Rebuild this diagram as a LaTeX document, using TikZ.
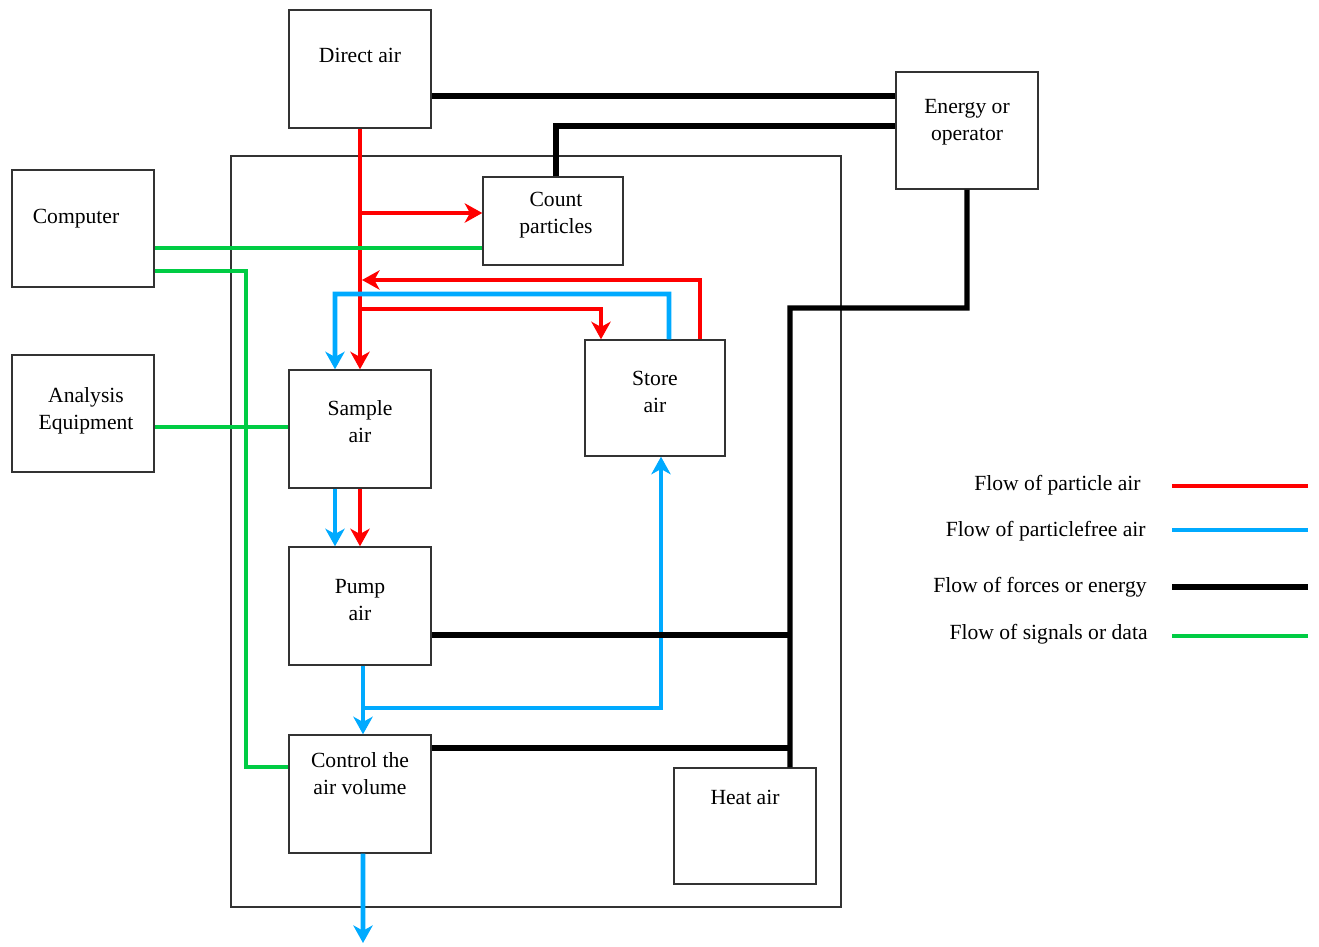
\documentclass[tikz,border=0pt]{standalone}
\usepackage{fontspec}
\setmainfont{Liberation Serif}
\usetikzlibrary{arrows.meta}

\definecolor{partred}{RGB}{255,0,0}
\definecolor{freeblue}{RGB}{0,170,255}
\definecolor{siggreen}{RGB}{0,204,68}

\tikzset{
  box/.style={draw=black!80, line width=0.8pt, minimum width=2.84cm, minimum height=2.36cm, inner sep=0pt},
  txt/.style={anchor=north, align=center, inner sep=0pt, font=\fontsize{12.3}{15}\selectfont},
  tip/.style={-{Stealth[length=10pt,width=11pt,inset=3pt]}},
  pflow/.style={draw=partred, line width=2.8pt},
  fflow/.style={draw=freeblue, line width=2.8pt},
  eflow/.style={draw=black, line width=2.9pt},
  sflow/.style={draw=siggreen, line width=2.8pt}
}

\begin{document}
\begin{tikzpicture}[x=0.2mm, y=-0.2mm]
  \useasboundingbox (0,0) rectangle (1319,946);

  % system border
  \draw[black!80, line width=0.6pt] (231,156) rectangle (841,907);

  % blocks
  \node[box, label={[txt, yshift=-0.78cm]north:Direct air}] (direct) at (360,69) {};
  \node[box, minimum height=2.34cm, label={[txt, yshift=-0.56cm]north:Energy or\\operator}] (energy) at (967,130.5) {};
  \node[box, minimum width=2.8cm, minimum height=1.76cm, label={[txt, xshift=0.06cm, yshift=-0.32cm]north:Count\\particles}] (count) at (553,221) {};
  \node[box, minimum height=2.34cm, label={[txt, xshift=-0.14cm, yshift=-0.8cm]north:Computer}] (computer) at (83,228.5) {};
  \node[box, minimum height=2.34cm, label={[txt, xshift=0.06cm, yshift=-0.66cm]north:Analysis\\Equipment}] (analysis) at (83,413.5) {};
  \node[box, label={[txt, yshift=-0.62cm]north:Sample\\air}] (sample) at (360,429) {};
  \node[box, minimum width=2.8cm, minimum height=2.32cm, label={[txt, yshift=-0.64cm]north:Store\\air}] (store) at (655,398) {};
  \node[box, label={[txt, yshift=-0.66cm]north:Pump\\air}] (pump) at (360,606) {};
  \node[box, label={[txt, yshift=-0.36cm]north:Control the\\air volume}] (control) at (360,794) {};
  \node[box, minimum height=2.32cm, label={[txt, yshift=-0.46cm]north:Heat air}] (heat) at (745,826) {};

  % junctions
  \coordinate (r1) at (360,213);
  \coordinate (r2) at (362,280);
  \coordinate (b1) at (335,294);
  \coordinate (r3) at (360,309);
  \coordinate (e1) at (790,308);
  \coordinate (g1) at (246,767);
  \coordinate (b2) at (363,708);
  \coordinate (out) at (363,943);

  % particle air
  \draw[pflow, tip] (direct.south) -- (sample.north);
  \draw[pflow, tip] (r1) -- (r1 -| count.west);
  \draw[pflow, tip] ([xshift=0.9cm]store.north) |- (r2);
  \draw[pflow, tip] (r3) -| ([xshift=-1.08cm]store.north);
  \draw[pflow, tip] (sample.south) -- (pump.north);

  % particlefree air
  \draw[fflow, tip] ([xshift=0.28cm]store.north) |- (b1) -- ([xshift=-0.5cm]sample.north);
  \draw[fflow, tip] ([xshift=-0.5cm]sample.south) -- ([xshift=-0.5cm]pump.north);
  \draw[fflow, tip] ([xshift=0.06cm]pump.south) -- ([xshift=0.06cm]control.north);
  \draw[fflow, tip] (b2) -| ([xshift=0.12cm]store.south);
  \draw[fflow, tip] ([xshift=0.06cm]control.south) -- (out);

  % forces or energy
  \draw[eflow] ([yshift=-0.54cm]direct.east) -- ([yshift=-0.54cm]direct.east -| energy.west);
  \draw[eflow] ([xshift=0.06cm]count.north) |- ([yshift=0.09cm]energy.west);
  \draw[eflow] (energy.south) |- (e1) -- ([xshift=0.9cm]heat.north);
  \draw[eflow] ([yshift=-0.58cm]pump.east) -- ([yshift=-0.58cm]pump.east -| e1);
  \draw[eflow] ([yshift=0.92cm]control.east) -- ([yshift=0.92cm]control.east -| e1);

  % signals or data
  \draw[sflow] ([yshift=-0.39cm]computer.east) -- ([yshift=-0.39cm]computer.east -| count.west);
  \draw[sflow] ([yshift=-0.85cm]computer.east) -| (g1) -- (g1 -| control.west);
  \draw[sflow] ([yshift=-0.27cm]analysis.east) -- ([yshift=-0.27cm]analysis.east -| sample.west);

  % legend
  \node[txt, anchor=east] (lpart) at (1141,485) {Flow of particle air};
  \node[txt, anchor=east] (lfree) at (1146,531) {Flow of particlefree air};
  \node[txt, anchor=east] (lforce) at (1147,587) {Flow of forces or energy};
  \node[txt, anchor=east] (lsig) at (1148,634) {Flow of signals or data};
  \draw[pflow] (1172,486) -- (1308,486);
  \draw[fflow] (1172,530) -- (1308,530);
  \draw[eflow] (1172,587) -- (1308,587);
  \draw[sflow] (1172,636) -- (1308,636);
\end{tikzpicture}
\end{document}
